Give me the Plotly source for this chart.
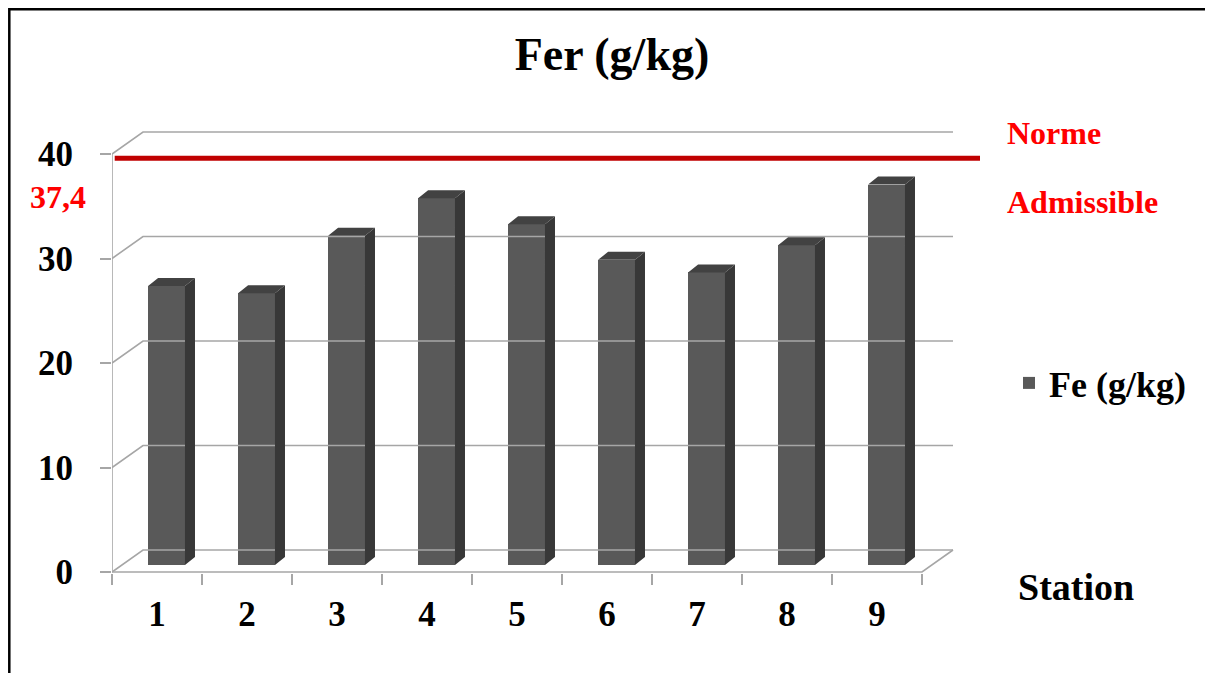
import plotly.graph_objects as go

# ---- data ----
stations = [1, 2, 3, 4, 5, 6, 7, 8, 9]
station_labels = ["1", "2", "3", "4", "5", "6", "7", "8", "9"]
fe_values = [26.7, 26.0, 31.5, 35.1, 32.6, 29.2, 28.0, 30.6, 36.4]
y_ticks = [0, 10, 20, 30, 40]
norme_label = "37,4"
norme_line_level = 39.6  # drawn position of the red "norme" line

# ---- geometry helpers (screen pixels -> paper coords) ----
W, H = 1213, 673
OFF = 8  # page body margin
L = 112 - OFF
T = 110 - OFF
BOT = 573 - OFF          # plot-area bottom in figure pixels
RGT = 980 - OFF          # plot-area right in figure pixels
B = H - BOT
R = W - RGT
PW, PH = W - L - R, H - T - B
UX = 90.0      # px per category
UY = 10.45     # px per y unit
ZERO = 572 - OFF


def px_x(p):
    return (p - OFF - L) / PW


def px_y(p):
    return (BOT - (p - OFF)) / PH


x_range = [0.5, 0.5 + PW / UX]
y_range = [-(BOT - ZERO) / UY, (ZERO - T) / UY]

# 3D offsets (in data units)
wall_dx, wall_dy = 31 / UX, 22 / UY
bar_off, bar_w, bar_base = 0.106, 0.41, 0.67
dep_dx, dep_dy = 10 / UX, 8 / UY

grid_col = "#a6a6a6"
fig = go.Figure()

gx, gy = [], []
for v in y_ticks:
    gx += [0.5, 0.5 + wall_dx, 9.5 + wall_dx, None]
    gy += [v, v + wall_dy, v + wall_dy, None]
gx += [0.5, 9.5, 9.5 + wall_dx, None]
gy += [0, 0, wall_dy, None]
gx += [0.5, 0.5, None]
gy += [0, y_ticks[-1], None]
fig.add_trace(go.Scatter(x=gx, y=gy, mode="lines", line=dict(color=grid_col, width=1.6),
                         hoverinfo="skip", showlegend=False))

fig.add_trace(go.Bar(x=[s + bar_off for s in stations], y=fe_values, base=bar_base,
                     width=bar_w, marker=dict(color="#595959", line=dict(width=0)),
                     name="<b>Fe (g/kg)</b>", showlegend=True))

sx, sy, tx, ty = [], [], [], []
for s, v in zip(stations, fe_values):
    xl = s + bar_off - bar_w / 2
    xr = s + bar_off + bar_w / 2
    top = bar_base + v
    sx += [xr, xr + dep_dx, xr + dep_dx, xr, xr, None]
    sy += [bar_base, bar_base + dep_dy, top + dep_dy, top, bar_base, None]
    tx += [xl, xl + dep_dx, xr + dep_dx, xr, xl, None]
    ty += [top, top + dep_dy, top + dep_dy, top, top, None]
fig.add_trace(go.Scatter(x=sx, y=sy, mode="lines", fill="toself", fillcolor="#383838",
                         line=dict(width=0, color="#383838"), hoverinfo="skip", showlegend=False))
fig.add_trace(go.Scatter(x=tx, y=ty, mode="lines", fill="toself", fillcolor="#424242",
                         line=dict(width=0, color="#424242"), hoverinfo="skip", showlegend=False))

fig.add_trace(go.Scatter(x=[0.53, x_range[1]], y=[norme_line_level, norme_line_level], mode="lines",
                         line=dict(color="#c00000", width=5), hoverinfo="skip", showlegend=False))

serif = "Liberation Serif"

fig.update_layout(
    width=W, height=H,
    margin=dict(l=L, r=R, t=T, b=B),
    paper_bgcolor="white", plot_bgcolor="white",
    title=dict(text="<b>Fer (g/kg)</b>", x=(612 - OFF) / W, y=1 - (54 - OFF) / H,
               xanchor="center", yanchor="middle",
               font=dict(family=serif, size=46, color="black")),
    xaxis=dict(range=x_range, tickmode="array", tickvals=stations,
               ticktext=["<b>%s</b>" % t for t in station_labels],
               ticks="", showgrid=False, zeroline=False, showline=False,
               tickfont=dict(family=serif, size=35, color="black"),
               ticklabelstandoff=17,
               minor=dict(tickmode="array", tickvals=[s - 0.5 for s in stations] + [stations[-1] + 0.5],
                          ticks="outside", ticklen=11, tickwidth=1.6, tickcolor=grid_col, showgrid=False)),
    yaxis=dict(range=y_range, tickmode="array", tickvals=y_ticks,
               ticktext=["<b>%d</b>" % t for t in y_ticks], ticks="outside", ticklen=11,
               tickwidth=1.6, tickcolor=grid_col, showgrid=False, zeroline=False, showline=False,
               tickfont=dict(family=serif, size=35, color="black"),
               ticklabelstandoff=20),
    legend=dict(x=px_x(1009), y=px_y(383), xanchor="left", yanchor="middle",
                font=dict(family=serif, size=36, color="black"),
                bgcolor="rgba(0,0,0,0)"),
    bargap=0,
)

red_font = dict(family=serif, size=32, color="#ff0000")
fig.add_annotation(text="<b>%s</b>" % norme_label, x=px_x(58), y=px_y(197), xref="paper", yref="paper",
                   xanchor="center", yanchor="middle", showarrow=False, font=red_font)
fig.add_annotation(text="<b>Norme</b>", x=px_x(1005), y=px_y(133), xref="paper", yref="paper",
                   xanchor="left", yanchor="middle", showarrow=False, font=red_font)
fig.add_annotation(text="<b>Admissible</b>", x=px_x(1005), y=px_y(202), xref="paper", yref="paper",
                   xanchor="left", yanchor="middle", showarrow=False, font=red_font)
fig.add_annotation(text="<b>Station</b>", x=px_x(1016), y=px_y(587), xref="paper", yref="paper",
                   xanchor="left", yanchor="middle", showarrow=False,
                   font=dict(family=serif, size=38, color="black"))

# outer frame (left and top edges sit at the very edge of the figure)
fig.add_shape(type="rect", xref="paper", yref="paper", x0=px_x(OFF + 1.3), x1=px_x(1240),
              y0=px_y(700), y1=px_y(OFF + 1.3), line=dict(color="black", width=2.5))

fig.write_html("out.html")
